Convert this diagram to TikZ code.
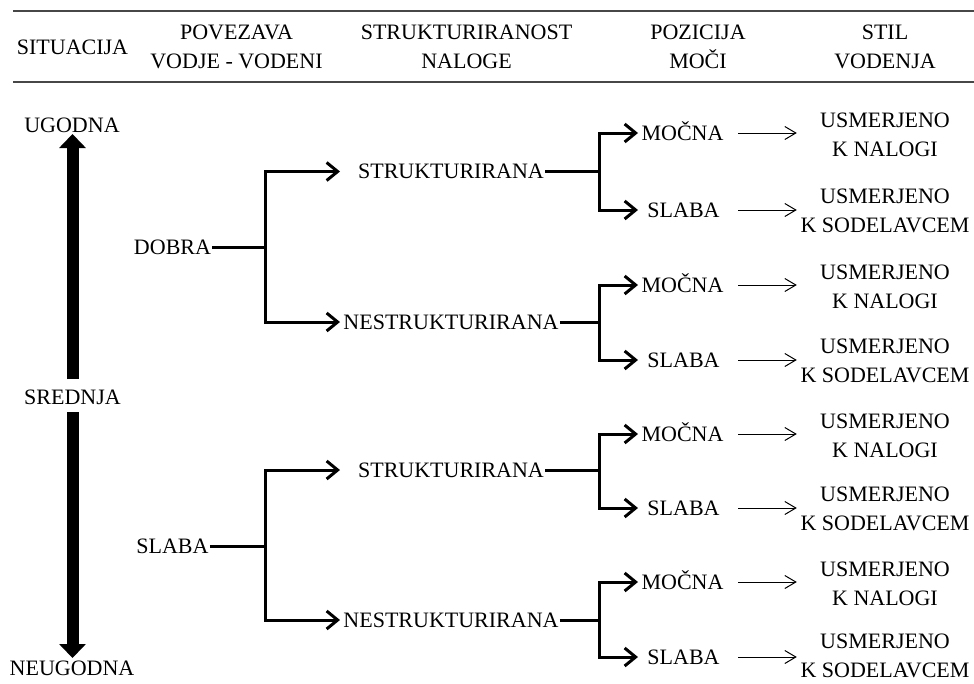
\documentclass[tikz,border=0pt]{standalone}
\usepackage{fontspec}
\setmainfont{Liberation Serif}
\usetikzlibrary{arrows.meta}
\begin{document}
\begin{tikzpicture}[x=1pt,y=-1pt,
  every node/.style={font=\fontsize{22}{29}\selectfont, inner sep=1pt},
  lbl/.style={text height=14.6pt, text depth=0pt},
  two/.style={align=center},
  rgt/.style={align=center, minimum width=176pt},
  rulestyle/.style={draw=black!72, line width=2pt},
  br/.style={line width=3pt, -{Straight Barb[length=11pt,width=18pt]}},
  stem/.style={line width=3pt},
  thinarr/.style={line width=1pt, -{Straight Barb[length=11pt,width=13pt]}},
  big/.style={line width=12pt, -{Triangle[length=14pt,width=26pt]}}
]
\useasboundingbox (0,0) rectangle (974,683);
% column coordinates
\coordinate (xA) at (265,0);
\coordinate (xB) at (340,0);
\coordinate (xC) at (599,0);
\coordinate (xD) at (638,0);
\coordinate (xE) at (738,0);
% header rules
\coordinate (rl1) at (13,11);  \coordinate (rr1) at (974,11);
\coordinate (rl2) at (13,82);  \coordinate (rr2) at (974,82);
\draw[rulestyle] (rl1) -- (rr1);
\draw[rulestyle] (rl2) -- (rr2);
% header
\node (h1) at (72.5,47) {SITUACIJA};
\node[two] (h2) at (236.5,47.3) {POVEZAVA\\VODJE - VODENI};
\node[two] (h3) at (466.5,47.3) {STRUKTURIRANOST\\NALOGE};
\node[two] (h4) at (698,47.3) {POZICIJA\\MOČI};
\node[two] (h5) at (885,47.3) {STIL\\VODENJA};
% situation scale
\node[lbl] (ug) at (72,125.5) {UGODNA};
\node[lbl] (sr) at (72.5,397) {SREDNJA};
\node[lbl] (ne) at (72,668.5) {NEUGODNA};
\draw[big, shorten <=9.5pt] (sr.north) -- (sr.north |- ug.south);
\draw[big, shorten <=6.5pt, shorten >=2pt] (sr.south) -- (sr.south |- ne.north);
% leader-member relation
\node[lbl] (dobra) at (172.5,247) {DOBRA};
\node[lbl] (slaba) at (172.5,546) {SLABA};
% task structure
\node[lbl] (s1) at (451,171.5) {STRUKTURIRANA};
\node[lbl] (n1) at (451,322) {NESTRUKTURIRANA};
\node[lbl] (s2) at (451,470) {STRUKTURIRANA};
\node[lbl] (n2) at (451,620) {NESTRUKTURIRANA};
% position power
\node[lbl] (m1) at (682.5,133) {MOČNA};
\node[lbl] (w1) at (683.5,210) {SLABA};
\node[lbl] (m2) at (682.5,285) {MOČNA};
\node[lbl] (w2) at (683.5,360) {SLABA};
\node[lbl] (m3) at (682.5,434) {MOČNA};
\node[lbl] (w3) at (683.5,508) {SLABA};
\node[lbl] (m4) at (682.5,582) {MOČNA};
\node[lbl] (w4) at (683.5,657) {SLABA};
% leadership style
\node[rgt] (r1) at (885,135) {USMERJENO\\K NALOGI};
\node[rgt] (r2) at (885,211) {USMERJENO\\K SODELAVCEM};
\node[rgt] (r3) at (885,287) {USMERJENO\\K NALOGI};
\node[rgt] (r4) at (885,361) {USMERJENO\\K SODELAVCEM};
\node[rgt] (r5) at (885,436) {USMERJENO\\K NALOGI};
\node[rgt] (r6) at (885,509) {USMERJENO\\K SODELAVCEM};
\node[rgt] (r7) at (885,584) {USMERJENO\\K NALOGI};
\node[rgt] (r8) at (885,656) {USMERJENO\\K SODELAVCEM};
% first level branches
\foreach \p/\a/\b in {dobra/s1/n1, slaba/s2/n2}{
  \draw[stem] (\p.east) -- (\p.east -| xA);
  \draw[br] (\p.east -| xA) |- (\a.west -| xB);
  \draw[br] (\p.east -| xA) |- (\b.west -| xB);
}
% second level branches
\foreach \p/\a/\b in {s1/m1/w1, n1/m2/w2, s2/m3/w3, n2/m4/w4}{
  \draw[stem] (\p.east) -- (\p.east -| xC);
  \draw[br] (\p.east -| xC) |- (\a.west -| xD);
  \draw[br] (\p.east -| xC) |- (\b.west -| xD);
}
% thin arrows
\foreach \a/\r in {m1/r1, w1/r2, m2/r3, w2/r4, m3/r5, w3/r6, m4/r7, w4/r8}{
  \draw[thinarr] (\a.east -| xE) -- (\a.east -| \r.west);
}
\end{tikzpicture}
\end{document}
